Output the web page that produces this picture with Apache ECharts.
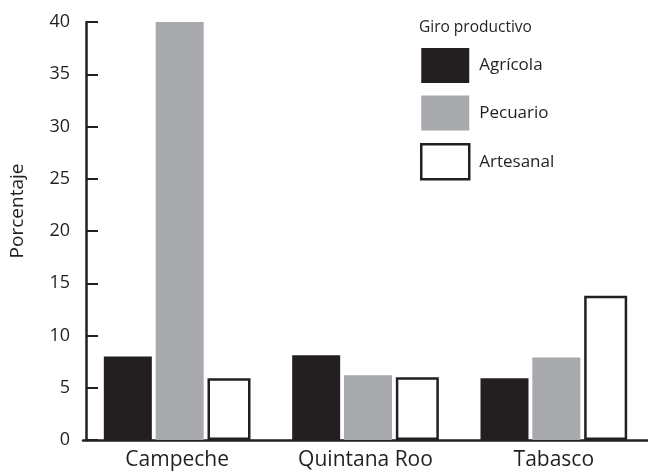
<!DOCTYPE html>
<html>
<head>
<meta charset="utf-8">
<script src="https://cdn.jsdelivr.net/npm/echarts@6/dist/echarts.min.js"></script>
<style>html,body{margin:0;padding:0;background:#fff}#c{width:648px;height:474px}</style>
</head>
<body>
<div id="c"></div>
<script>
var categories = ['Campeche', 'Quintana Roo', 'Tabasco'];
var agricola = [8.0, 8.1, 5.9];
var pecuario = [40, 6.2, 7.9];
var artesanal = [5.9, 6.0, 13.8];
var yTicks = [0, 5, 10, 15, 20, 25, 30, 35, 40];

var ink = '#231f20';
var grey = '#a7a9ac';
var font = 'Open Sans';

var chart = echarts.init(document.getElementById('c'), null, {renderer: 'canvas'});
chart.setOption({
  animation: false,
  backgroundColor: '#fff',
  textStyle: {fontFamily: font, color: ink},
  title: {
    text: 'Giro productivo',
    left: 419, top: 20, padding: 0,
    textStyle: {fontFamily: font, fontSize: 15.5, fontWeight: 'normal', color: ink}
  },
  legend: {
    orient: 'vertical',
    left: 420, top: 48, padding: 0,
    itemWidth: 48, itemHeight: 35, itemGap: 12.5,
    icon: 'rect',
    textStyle: {fontFamily: font, fontSize: 17, color: ink, padding: [0, 0, 0, 5]},
    data: [
      {name: 'Agrícola', itemStyle: {color: ink, borderWidth: 0}},
      {name: 'Pecuario', itemStyle: {color: grey, borderWidth: 0}},
      {name: 'Artesanal', itemStyle: {color: '#fff', borderColor: ink, borderWidth: 2.5}}
    ]
  },
  grid: {left: 78, top: 22, width: 573, bottom: 34},
  xAxis: {
    type: 'category',
    data: categories,
    axisLine: {lineStyle: {color: ink, width: 2.5}},
    axisTick: {inside: true, length: 12, lineStyle: {color: ink, width: 2}},
    axisLabel: {color: ink, fontFamily: font, fontSize: 21, margin: 10}
  },
  yAxis: {
    type: 'value',
    min: 0, max: 40, interval: 5,
    offset: -3,
    name: 'Porcentaje',
    nameLocation: 'middle',
    nameGap: 59,
    nameTextStyle: {fontFamily: font, fontSize: 19, color: ink, padding: [0, 0, 0, 40]},
    splitLine: {show: false},
    axisLine: {show: true, lineStyle: {color: ink, width: 2.5}},
    axisTick: {show: true, inside: true, length: 12, lineStyle: {color: ink, width: 2}},
    axisLabel: {
      color: ink, fontFamily: font, fontSize: 18, margin: 16,
      formatter: function (v) { return yTicks.indexOf(v) >= 0 ? String(v) : ''; }
    }
  },
  series: [
    {name: 'Agrícola', type: 'bar', data: agricola, barWidth: 48, barGap: '8%',
     itemStyle: {color: ink}},
    {name: 'Pecuario', type: 'bar', data: pecuario, barWidth: 48, barGap: '8%',
     itemStyle: {color: grey}},
    {name: 'Artesanal', type: 'bar', data: artesanal, barWidth: 43, barGap: '8%',
     itemStyle: {color: '#fff', borderColor: ink, borderWidth: 2.5}}
  ]
});
</script>
</body>
</html>
